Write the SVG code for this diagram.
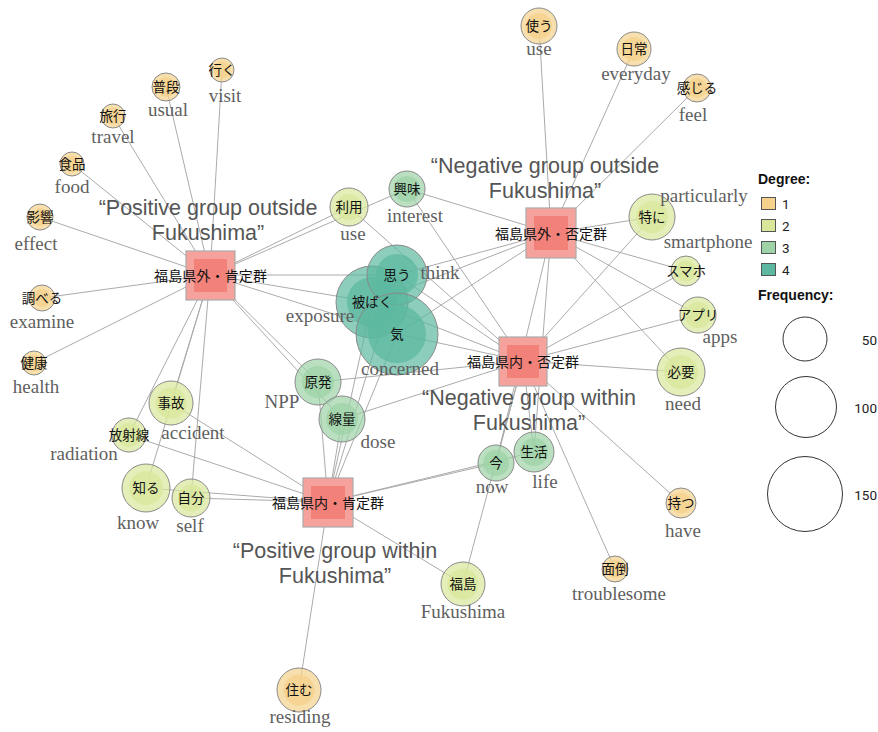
<svg xmlns="http://www.w3.org/2000/svg" width="878" height="732" viewBox="0 0 878 732">
<style>
.e{stroke:#ababab;stroke-width:1;fill:none}
.d1{fill:#F5D18B}.d2{fill:#D9E79B}.d3{fill:#9DD3A6}.d4{fill:#5CB8A0}
.o{fill-opacity:0.7;stroke:#8a8a8a;stroke-width:1}
.i{fill-opacity:0.75;stroke:none}
.jp{font-family:"Noto Sans CJK JP","Noto Sans",sans-serif;font-size:13.5px;fill:#111;text-anchor:middle}
.en{font-family:"Liberation Serif","Times New Roman",serif;font-size:19px;fill:#5f5f5f;text-anchor:middle}
.ho{fill:#F5A29C;stroke:#aaaaaa;stroke-width:1.2}
.hi{fill:#F2817A}
.hl{font-family:"Noto Sans CJK JP","Noto Sans",sans-serif;font-size:14px;fill:#111;text-anchor:middle}
.t{font-family:"Liberation Sans",Arial,sans-serif;font-size:21.5px;fill:#555;text-anchor:middle}
.lh{font-family:"Liberation Sans",Arial,sans-serif;font-size:14px;font-weight:bold;fill:#111}
.ln{font-family:Roboto,"Liberation Sans",sans-serif;font-size:13.5px;fill:#222}
.sw{stroke:#555;stroke-width:1}
.fc{fill:none;stroke:#333;stroke-width:1}
</style>
<rect width="878" height="732" fill="#fff"/>
<g id="edges" class="e">
<line x1="210" y1="275" x2="222" y2="70"/>
<line x1="210" y1="275" x2="166" y2="87"/>
<line x1="210" y1="275" x2="113" y2="116"/>
<line x1="210" y1="275" x2="72" y2="164"/>
<line x1="210" y1="275" x2="40" y2="217"/>
<line x1="210" y1="275" x2="42" y2="298"/>
<line x1="210" y1="275" x2="34" y2="363"/>
<line x1="210" y1="275" x2="349" y2="207"/>
<line x1="210" y1="275" x2="407" y2="189"/>
<line x1="210" y1="275" x2="397" y2="275"/>
<line x1="210" y1="275" x2="372" y2="302"/>
<line x1="210" y1="275" x2="397" y2="334"/>
<line x1="210" y1="275" x2="318" y2="382"/>
<line x1="210" y1="275" x2="342" y2="419"/>
<line x1="210" y1="275" x2="171" y2="403"/>
<line x1="210" y1="275" x2="129" y2="435"/>
<line x1="210" y1="275" x2="146" y2="488"/>
<line x1="210" y1="275" x2="191" y2="498"/>
<line x1="551" y1="233" x2="539" y2="26"/>
<line x1="551" y1="233" x2="634" y2="49"/>
<line x1="551" y1="233" x2="697" y2="88"/>
<line x1="551" y1="233" x2="652" y2="217"/>
<line x1="551" y1="233" x2="686" y2="271"/>
<line x1="551" y1="233" x2="698" y2="315"/>
<line x1="551" y1="233" x2="681" y2="372"/>
<line x1="551" y1="233" x2="407" y2="189"/>
<line x1="551" y1="233" x2="397" y2="275"/>
<line x1="551" y1="233" x2="372" y2="302"/>
<line x1="551" y1="233" x2="397" y2="334"/>
<line x1="551" y1="233" x2="496" y2="463"/>
<line x1="551" y1="233" x2="534" y2="452"/>
<line x1="523" y1="361" x2="681" y2="503"/>
<line x1="523" y1="361" x2="615" y2="569"/>
<line x1="523" y1="361" x2="652" y2="217"/>
<line x1="523" y1="361" x2="686" y2="271"/>
<line x1="523" y1="361" x2="698" y2="315"/>
<line x1="523" y1="361" x2="681" y2="372"/>
<line x1="523" y1="361" x2="349" y2="207"/>
<line x1="523" y1="361" x2="407" y2="189"/>
<line x1="523" y1="361" x2="397" y2="275"/>
<line x1="523" y1="361" x2="372" y2="302"/>
<line x1="523" y1="361" x2="397" y2="334"/>
<line x1="523" y1="361" x2="318" y2="382"/>
<line x1="523" y1="361" x2="342" y2="419"/>
<line x1="523" y1="361" x2="496" y2="463"/>
<line x1="523" y1="361" x2="534" y2="452"/>
<line x1="523" y1="361" x2="463" y2="584"/>
<line x1="328" y1="502" x2="299" y2="690"/>
<line x1="328" y1="502" x2="171" y2="403"/>
<line x1="328" y1="502" x2="129" y2="435"/>
<line x1="328" y1="502" x2="146" y2="488"/>
<line x1="328" y1="502" x2="191" y2="498"/>
<line x1="328" y1="502" x2="463" y2="584"/>
<line x1="328" y1="502" x2="397" y2="275"/>
<line x1="328" y1="502" x2="372" y2="302"/>
<line x1="328" y1="502" x2="397" y2="334"/>
<line x1="328" y1="502" x2="318" y2="382"/>
<line x1="328" y1="502" x2="342" y2="419"/>
<line x1="328" y1="502" x2="496" y2="463"/>
<line x1="328" y1="502" x2="534" y2="452"/>
</g>
<g id="titles" class="t">
<text x="208" y="215">“Positive group outside<tspan x="208" y="240">Fukushima”</tspan></text>
<text x="545" y="173">“Negative group outside<tspan x="545" y="198">Fukushima”</tspan></text>
<text x="529" y="405">“Negative group within<tspan x="529" y="430">Fukushima”</tspan></text>
<text x="335" y="558">“Positive group within<tspan x="335" y="583">Fukushima”</tspan></text>
</g>
<g id="n-hibaku"><circle class="d4 o" cx="372" cy="302" r="36"/><circle class="d4 i" cx="372" cy="302" r="25"/></g>
<g id="n-omou"><circle class="d4 o" cx="397" cy="275" r="30"/><circle class="d4 i" cx="397" cy="275" r="21"/></g>
<g id="n-ki"><circle class="d4 o" cx="397" cy="334" r="41"/><circle class="d4 i" cx="397" cy="334" r="29"/></g>
<g id="n-kyomi"><circle class="d3 o" cx="407" cy="189" r="18"/><circle class="d3 i" cx="407" cy="189" r="13"/></g>
<g id="n-genpatsu"><circle class="d3 o" cx="318" cy="382" r="23"/><circle class="d3 i" cx="318" cy="382" r="16"/></g>
<g id="n-senryo"><circle class="d3 o" cx="342" cy="419" r="23"/><circle class="d3 i" cx="342" cy="419" r="16"/></g>
<g id="n-ima"><circle class="d3 o" cx="496" cy="463" r="18"/><circle class="d3 i" cx="496" cy="463" r="13"/></g>
<g id="n-seikatsu"><circle class="d3 o" cx="534" cy="452" r="20"/><circle class="d3 i" cx="534" cy="452" r="14"/></g>
<g id="n-riyo"><circle class="d2 o" cx="349" cy="207" r="19"/><circle class="d2 i" cx="349" cy="207" r="13"/></g>
<g id="n-tokuni"><circle class="d2 o" cx="652" cy="217" r="23"/><circle class="d2 i" cx="652" cy="217" r="16"/></g>
<g id="n-sumaho"><circle class="d2 o" cx="686" cy="271" r="15"/><circle class="d2 i" cx="686" cy="271" r="10.5"/></g>
<g id="n-apuri"><circle class="d2 o" cx="698" cy="315" r="18"/><circle class="d2 i" cx="698" cy="315" r="13"/></g>
<g id="n-hitsuyo"><circle class="d2 o" cx="681" cy="372" r="24"/><circle class="d2 i" cx="681" cy="372" r="17"/></g>
<g id="n-jiko"><circle class="d2 o" cx="171" cy="403" r="22"/><circle class="d2 i" cx="171" cy="403" r="15.5"/></g>
<g id="n-hoshasen"><circle class="d2 o" cx="129" cy="435" r="17"/><circle class="d2 i" cx="129" cy="435" r="12"/></g>
<g id="n-shiru"><circle class="d2 o" cx="146" cy="488" r="24"/><circle class="d2 i" cx="146" cy="488" r="17"/></g>
<g id="n-jibun"><circle class="d2 o" cx="191" cy="498" r="19"/><circle class="d2 i" cx="191" cy="498" r="13.5"/></g>
<g id="n-fukushima"><circle class="d2 o" cx="463" cy="584" r="22"/><circle class="d2 i" cx="463" cy="584" r="15.5"/></g>
<g id="n-tsukau"><circle class="d1 o" cx="539" cy="26" r="18"/><circle class="d1 i" cx="539" cy="26" r="13"/></g>
<g id="n-nichijo"><circle class="d1 o" cx="634" cy="49" r="17"/><circle class="d1 i" cx="634" cy="49" r="12"/></g>
<g id="n-kanjiru"><circle class="d1 o" cx="697" cy="88" r="14"/><circle class="d1 i" cx="697" cy="88" r="10"/></g>
<g id="n-iku"><circle class="d1 o" cx="222" cy="70" r="12"/><circle class="d1 i" cx="222" cy="70" r="8.5"/></g>
<g id="n-fudan"><circle class="d1 o" cx="166" cy="87" r="14"/><circle class="d1 i" cx="166" cy="87" r="10"/></g>
<g id="n-ryoko"><circle class="d1 o" cx="113" cy="116" r="12"/><circle class="d1 i" cx="113" cy="116" r="8.5"/></g>
<g id="n-shokuhin"><circle class="d1 o" cx="72" cy="164" r="12"/><circle class="d1 i" cx="72" cy="164" r="8.5"/></g>
<g id="n-eikyo"><circle class="d1 o" cx="40" cy="217" r="13"/><circle class="d1 i" cx="40" cy="217" r="9"/></g>
<g id="n-shiraberu"><circle class="d1 o" cx="42" cy="298" r="13"/><circle class="d1 i" cx="42" cy="298" r="9"/></g>
<g id="n-kenko"><circle class="d1 o" cx="34" cy="363" r="12"/><circle class="d1 i" cx="34" cy="363" r="8.5"/></g>
<g id="n-sumu"><circle class="d1 o" cx="299" cy="690" r="22"/><circle class="d1 i" cx="299" cy="690" r="15.5"/></g>
<g id="n-motsu"><circle class="d1 o" cx="681" cy="503" r="15"/><circle class="d1 i" cx="681" cy="503" r="10.5"/></g>
<g id="n-mendo"><circle class="d1 o" cx="615" cy="569" r="13"/><circle class="d1 i" cx="615" cy="569" r="9"/></g>
<g id="h-outside-pos"><rect class="ho" x="186" y="251" width="49" height="49"/><rect class="hi" x="194" y="259" width="33" height="33"/><text class="hl" x="210.5" y="281" textLength="113" lengthAdjust="spacing">福島県外・肯定群</text></g>
<g id="h-outside-neg"><rect class="ho" x="526" y="208" width="50" height="50"/><rect class="hi" x="534" y="216" width="34" height="34"/><text class="hl" x="551" y="239" textLength="112" lengthAdjust="spacing">福島県外・否定群</text></g>
<g id="h-within-neg"><rect class="ho" x="499" y="337" width="48" height="49"/><rect class="hi" x="507" y="345" width="32" height="33"/><text class="hl" x="523" y="367" textLength="112" lengthAdjust="spacing">福島県内・否定群</text></g>
<g id="h-within-pos"><rect class="ho" x="303" y="478" width="50" height="49"/><rect class="hi" x="311" y="486" width="34" height="33"/><text class="hl" x="328" y="508" textLength="112" lengthAdjust="spacing">福島県内・肯定群</text></g>
<g id="node-labels">
<g id="l-omou"><text class="jp" x="397" y="280">思う</text><text class="en" x="440" y="279">think</text></g>
<g id="l-hibaku"><text class="jp" x="372" y="307">被ばく</text><text class="en" x="320" y="322">exposure</text></g>
<g id="l-ki"><text class="jp" x="397" y="339">気</text><text class="en" x="400" y="375">concerned</text></g>
<g id="l-kyomi"><text class="jp" x="407" y="194">興味</text><text class="en" x="415" y="222">interest</text></g>
<g id="l-genpatsu"><text class="jp" x="318" y="387">原発</text><text class="en" x="282" y="408">NPP</text></g>
<g id="l-senryo"><text class="jp" x="342" y="424">線量</text><text class="en" x="378" y="448">dose</text></g>
<g id="l-ima"><text class="jp" x="496" y="468">今</text><text class="en" x="492" y="493">now</text></g>
<g id="l-seikatsu"><text class="jp" x="534" y="457">生活</text><text class="en" x="545" y="488">life</text></g>
<g id="l-riyo"><text class="jp" x="349" y="212">利用</text><text class="en" x="353" y="240">use</text></g>
<g id="l-tokuni"><text class="jp" x="652" y="222">特に</text><text class="en" x="704" y="202">particularly</text></g>
<g id="l-sumaho"><text class="jp" x="686" y="276">スマホ</text><text class="en" x="708" y="248">smartphone</text></g>
<g id="l-apuri"><text class="jp" x="698" y="320">アプリ</text><text class="en" x="720" y="343">apps</text></g>
<g id="l-hitsuyo"><text class="jp" x="681" y="377">必要</text><text class="en" x="683" y="410">need</text></g>
<g id="l-jiko"><text class="jp" x="171" y="408">事故</text><text class="en" x="193" y="439">accident</text></g>
<g id="l-hoshasen"><text class="jp" x="129" y="440">放射線</text><text class="en" x="84" y="460">radiation</text></g>
<g id="l-shiru"><text class="jp" x="146" y="493">知る</text><text class="en" x="138" y="529">know</text></g>
<g id="l-jibun"><text class="jp" x="191" y="503">自分</text><text class="en" x="190" y="532">self</text></g>
<g id="l-fukushima"><text class="jp" x="463" y="589">福島</text><text class="en" x="463" y="618">Fukushima</text></g>
<g id="l-tsukau"><text class="jp" x="539" y="31">使う</text><text class="en" x="539" y="55">use</text></g>
<g id="l-nichijo"><text class="jp" x="634" y="54">日常</text><text class="en" x="636" y="80">everyday</text></g>
<g id="l-kanjiru"><text class="jp" x="697" y="93">感じる</text><text class="en" x="693" y="121">feel</text></g>
<g id="l-iku"><text class="jp" x="222" y="75">行く</text><text class="en" x="225" y="102">visit</text></g>
<g id="l-fudan"><text class="jp" x="166" y="92">普段</text><text class="en" x="168" y="116">usual</text></g>
<g id="l-ryoko"><text class="jp" x="113" y="121">旅行</text><text class="en" x="113" y="143">travel</text></g>
<g id="l-shokuhin"><text class="jp" x="72" y="169">食品</text><text class="en" x="72" y="193">food</text></g>
<g id="l-eikyo"><text class="jp" x="40" y="222">影響</text><text class="en" x="36" y="250">effect</text></g>
<g id="l-shiraberu"><text class="jp" x="42" y="303">調べる</text><text class="en" x="42" y="328">examine</text></g>
<g id="l-kenko"><text class="jp" x="34" y="368">健康</text><text class="en" x="36" y="393">health</text></g>
<g id="l-sumu"><text class="jp" x="299" y="695">住む</text><text class="en" x="300" y="723">residing</text></g>
<g id="l-motsu"><text class="jp" x="681" y="508">持つ</text><text class="en" x="683" y="537">have</text></g>
<g id="l-mendo"><text class="jp" x="615" y="574">面倒</text><text class="en" x="619" y="600">troublesome</text></g>
</g>
<g id="legend">
<text class="lh" x="758" y="184">Degree:</text>
<rect class="sw d1" x="761.5" y="197.5" width="14" height="12"/><text class="ln" x="782" y="209">1</text>
<rect class="sw d2" x="761.5" y="219.5" width="14" height="12"/><text class="ln" x="782" y="231">2</text>
<rect class="sw d3" x="761.5" y="241.5" width="14" height="12"/><text class="ln" x="782" y="253">3</text>
<rect class="sw d4" x="761.5" y="263.5" width="14" height="12"/><text class="ln" x="782" y="275">4</text>
<text class="lh" x="758" y="300">Frequency:</text>
<circle class="fc" cx="805" cy="339" r="22"/><text class="ln" x="877" y="345" text-anchor="end">50</text>
<circle class="fc" cx="806" cy="407" r="30.5"/><text class="ln" x="877" y="413" text-anchor="end">100</text>
<circle class="fc" cx="805" cy="494" r="37.5"/><text class="ln" x="877" y="500" text-anchor="end">150</text>
</g>
</svg>
